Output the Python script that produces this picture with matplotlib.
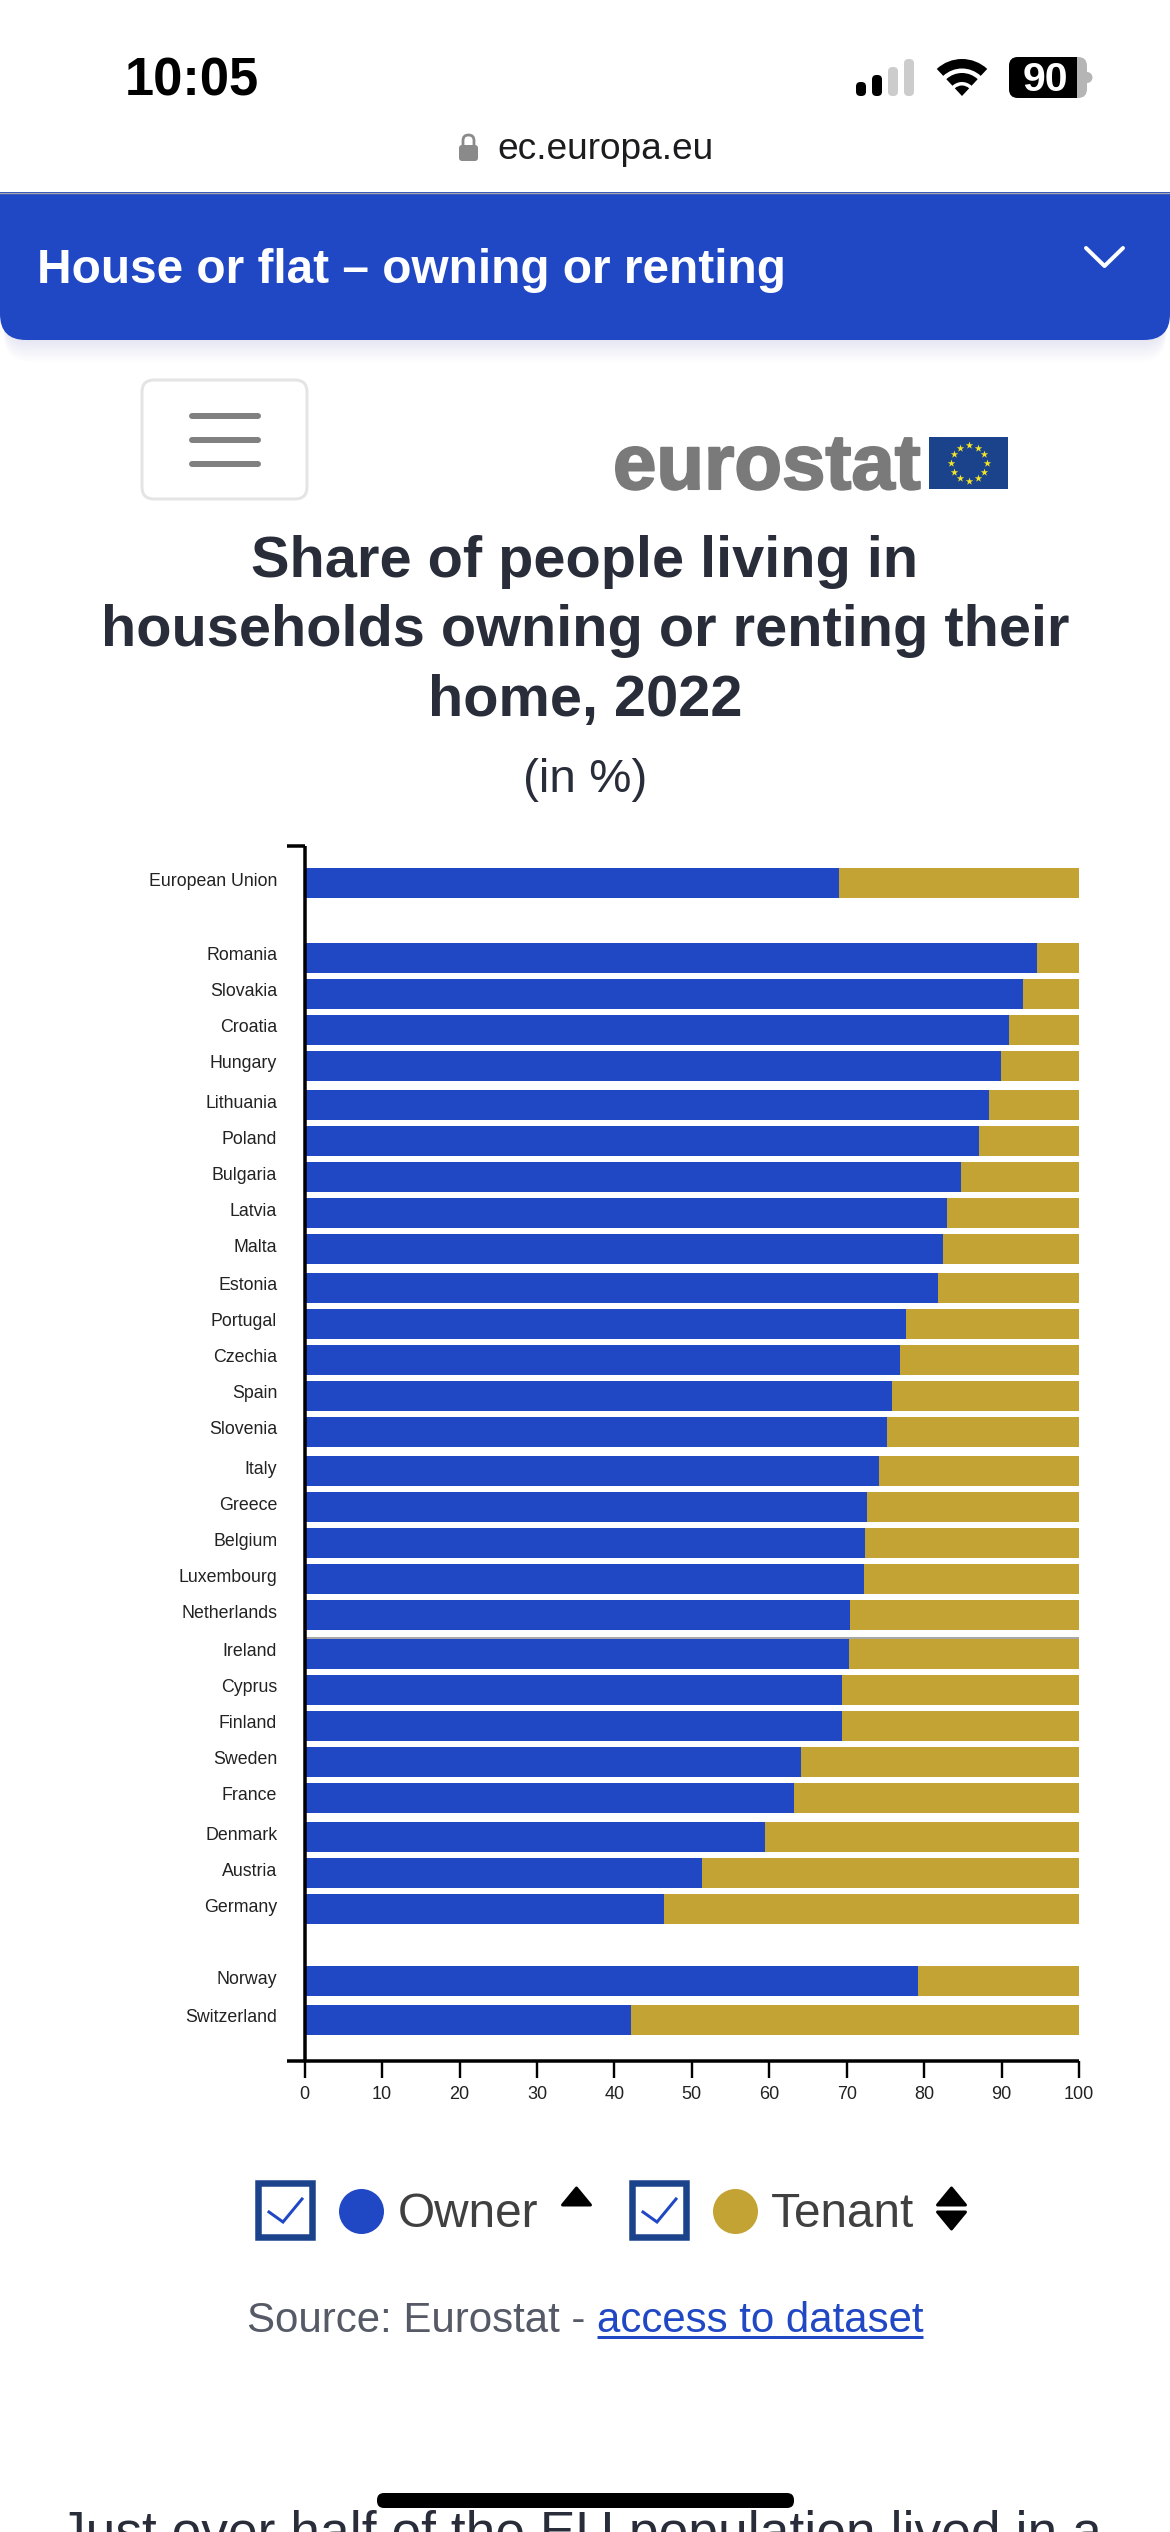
import matplotlib
matplotlib.use('Agg')
import matplotlib.pyplot as plt
import matplotlib.patheffects as pe
import numpy as np
from matplotlib.patches import Circle, FancyBboxPatch, Polygon, Rectangle, Wedge

plt.rcParams['font.family'] = ['Liberation Sans', 'DejaVu Sans']

# Data
countries = ['European Union', 'Romania', 'Slovakia', 'Croatia', 'Hungary', 'Lithuania', 'Poland',
             'Bulgaria', 'Latvia', 'Malta', 'Estonia', 'Portugal', 'Czechia', 'Spain', 'Slovenia',
             'Italy', 'Greece', 'Belgium', 'Luxembourg', 'Netherlands', 'Ireland', 'Cyprus', 'Finland',
             'Sweden', 'France', 'Denmark', 'Austria', 'Germany', 'Norway', 'Switzerland']
owner = [69.0, 94.6, 92.8, 91.0, 89.9, 88.4, 87.1, 84.8, 83.0, 82.4, 81.8, 77.6, 76.9, 75.9, 75.2,
         74.2, 72.6, 72.4, 72.2, 70.4, 70.3, 69.4, 69.4, 64.1, 63.2, 59.5, 51.3, 46.4, 79.2, 42.1]
tenant = [31.0, 5.4, 7.2, 9.0, 10.1, 11.6, 12.9, 15.2, 17.0, 17.6, 18.2, 22.4, 23.1, 24.1, 24.8,
          25.8, 27.4, 27.6, 27.8, 29.6, 29.7, 30.6, 30.6, 35.9, 36.8, 40.5, 48.7, 53.6, 20.8, 57.9]
xticks = [0, 10, 20, 30, 40, 50, 60, 70, 80, 90, 100]

BLUE = '#2148C4'
GOLD = '#C3A333'
INK = '#292D3A'
W, H = 1170, 2532


def pt(px):
    return px * 0.72


fig = plt.figure(figsize=(W / 100, H / 100), dpi=100, facecolor='white')

# whole screen in pixel coordinates, for the page around the chart
ui = fig.add_axes([0, 0, 1, 1])
ui.set_xlim(0, W)
ui.set_ylim(H, 0)
ui.axis('off')

# Header band, with its soft shadow
for i in range(12):
    ui.add_patch(FancyBboxPatch((4, 300), 1162, 42 + i * 1.8, boxstyle='round,pad=0,rounding_size=26',
                                fc=BLUE, ec='none', alpha=0.009))
ui.add_patch(FancyBboxPatch((0, 120), W, 220, boxstyle='round,pad=0,rounding_size=26', fc=BLUE, ec='none'))
ui.add_patch(Rectangle((0, 0), W, 192, fc='white', ec='none'))
ui.plot([0, W], [192.5, 192.5], color='#A8A8A8', lw=1)
ui.text(37, 283, 'House or flat \u2013 owning or renting', fontsize=pt(47.8), fontweight='bold', color='white')
ui.plot([1086, 1104.5, 1123], [248, 266, 248], color='white', lw=pt(4), solid_capstyle='round',
        solid_joinstyle='round')

# Status bar
ui.text(125, 96, '10:05', fontsize=pt(52.5), fontweight='bold', color='black')
for x0, top, c in [(856, 82, 'black'), (872, 75, 'black'), (888, 67, '#CCCCCC'), (904, 59, '#CCCCCC')]:
    ui.add_patch(FancyBboxPatch((x0 + 3, top + 3), 4, 96 - top - 6, boxstyle='round,pad=3,rounding_size=4.5',
                                fc=c, ec='none'))
ui.add_patch(Wedge((962, 96), 37, 227, 313, width=9.5, fc='black', ec='none'))
ui.add_patch(Wedge((962, 96), 23, 227, 313, width=9, fc='black', ec='none'))
ui.add_patch(Wedge((962, 96), 10.5, 227, 313, fc='black', ec='none'))
ui.add_patch(FancyBboxPatch((1017, 65), 62, 25, boxstyle='round,pad=8,rounding_size=9', fc='#B5B5B5', ec='none'))
ui.add_patch(FancyBboxPatch((1017, 65), 52, 25, boxstyle='round,pad=8,rounding_size=9', fc='black', ec='none'))
ui.add_patch(Rectangle((1068, 57), 9, 41, fc='black', ec='none'))
ui.add_patch(Wedge((1087, 77.5), 5.5, 270, 90, fc='#B5B5B5', ec='none'))
ui.text(1045, 91, '90', fontsize=pt(41), fontweight='bold', color='white', ha='center')

# Address bar
ui.add_patch(FancyBboxPatch((461, 147), 15, 12, boxstyle='round,pad=2,rounding_size=3', fc='#8A8A8A', ec='none'))
ui.add_patch(FancyBboxPatch((463, 135), 11, 16, boxstyle='round,pad=0,rounding_size=5.5', fc='none', ec='#8A8A8A', lw=2))
ui.text(497, 159, 'ec.europa.eu', fontsize=pt(37), color='#1C1C1E')

# Menu button
ui.add_patch(FancyBboxPatch((154, 392), 141, 95, boxstyle='round,pad=12,rounding_size=12', fc='white', ec='#E4E4E4', lw=pt(3)))
for y in [416, 440, 464]:
    ui.plot([192, 258], [y, y], color='#808080', lw=pt(6), solid_capstyle='round')

# Eurostat logo
ui.text(613, 489, 'eurostat', fontsize=pt(78), fontweight='bold', color='#7A7A7A',
        path_effects=[pe.withStroke(linewidth=1.5, foreground='#7A7A7A')])
ui.add_patch(Rectangle((929, 437), 79, 52, fc='#1A438C', ec='none'))
angles = np.deg2rad(np.arange(0, 360, 30))
ui.scatter(969 + 17.7 * np.cos(angles), 463 + 17.7 * np.sin(angles), marker='*', s=32, color='#F5E625', linewidths=0)

# Title
for y, line in zip([577, 646, 716], ['Share of people living in', 'households owning or renting their', 'home, 2022']):
    ui.text(585, y, line, fontsize=pt(57.8), fontweight='bold', color=INK, ha='center')
ui.text(585, 792, '(in %)', fontsize=pt(47.5), color=INK, ha='center')

# Chart, y axis runs in screen pixels because the bars snap to whole CSS pixels in the page
ax = fig.add_axes([304.7 / W, 1 - 2061 / H, (1079 - 304.7) / W, (2061 - 846) / H])
ax.patch.set_alpha(0)
ax.set_xlim(0, 100)
ax.set_ylim(2061, 846)

# rows count from Romania, the empty rows separate EU, members and EFTA
rows = np.array([-2] + list(range(27)) + [28, 29])
tops = 943 + 3 * np.floor(0.3 + 12.2 * rows)
centres = tops + 15

ax.barh(centres, owner, height=30, color=BLUE, linewidth=0)
ax.barh(centres, tenant, height=30, left=owner, color=GOLD, linewidth=0)
ax.plot([0, 100], [1638, 1638], color='#A8A8A8', lw=pt(2), solid_capstyle='butt')

for side in ['top', 'right']:
    ax.spines[side].set_visible(False)
for side in ['left', 'bottom']:
    ax.spines[side].set_linewidth(pt(3.5))
    ax.spines[side].set_capstyle('butt')

ax.set_xticks(xticks)
ax.tick_params(axis='x', length=pt(17), width=pt(2.4), labelsize=pt(18), labelcolor='#222222', pad=pt(8))
ax.set_yticks(centres - 4)
ax.set_yticklabels(countries)
ax.tick_params(axis='y', length=0, labelsize=pt(17.8), labelcolor='#222222', pad=pt(27.5))
ax.set_yticks([846, 2061], minor=True)
ax.tick_params(axis='y', which='minor', length=pt(18), width=pt(3.5))

# Legend, it is the page's own checkbox list
for x0, xc, label, xl, c in [(255, 361.5, 'Owner', 398, BLUE), (629, 735.5, 'Tenant', 771, GOLD)]:
    ui.add_patch(Rectangle((x0 + 3, 2183), 54, 54, fc='white', ec='#1A438C', lw=pt(6.5)))
    ui.plot([x0 + 14, x0 + 28, x0 + 47], [2212, 2222, 2199], color=BLUE, lw=pt(3), solid_joinstyle='miter')
    ui.add_patch(Circle((xc, 2211.5), 22.5, fc=c, ec='none'))
    ui.text(xl, 2227, label, fontsize=pt(47.8), color='#404040')
for x0 in [561, 936]:
    ui.add_patch(Polygon([(x0 + 15.5, 2188), (x0 + 29.5, 2205), (x0 + 1.5, 2205)], closed=True, fc='black', ec='black',
                         lw=pt(3), joinstyle='round'))
ui.add_patch(Polygon([(937.5, 2212), (965.5, 2212), (951.5, 2229)], closed=True, fc='black', ec='black', lw=pt(3), joinstyle='round'))

# Source
ui.text(247, 2332, 'Source: Eurostat - ', fontsize=pt(42), color='#555A66')
ui.text(597, 2332, 'access to dataset', fontsize=pt(42), color=BLUE)
ui.plot([597, 923], [2337, 2337], color=BLUE, lw=pt(3), solid_capstyle='butt')

# Start of the next paragraph and the home indicator
ui.text(59, 2549, 'Just over half of the EU population lived in a', fontsize=pt(53.4), color=INK)
ui.add_patch(FancyBboxPatch((384, 2500), 403, 1, boxstyle='round,pad=7,rounding_size=7', fc='black', ec='none', zorder=5))

fig.savefig('out.png', dpi=100)
